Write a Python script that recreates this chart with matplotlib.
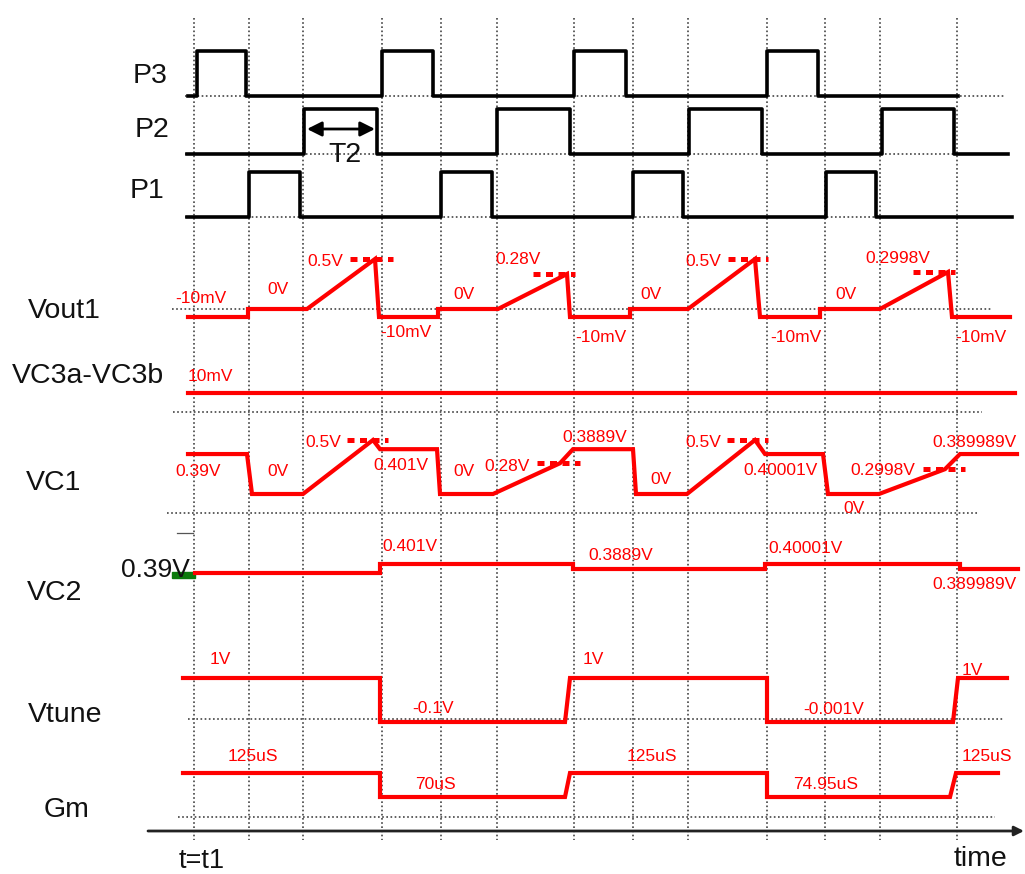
import matplotlib.pyplot as plt
from matplotlib.patches import Rectangle

plt.rcParams['font.family'] = ['Liberation Sans', 'DejaVu Sans']

RED = '#ff0000'
INK = '#111111'
GRID = '#444444'

# time axis: t = 0 is t1, one unit is one pixel of the drawing
GRID_T = [0, 55, 109, 188, 247, 303, 380, 439, 494, 573, 631, 686, 763]

# clock phases (edges of each digital waveform, starts low)
P3_EDGES = [-6, 3, 52, 188, 239, 380, 432, 573, 624, 764]
P2_EDGES = [-7, 110, 183, 303, 376, 495, 568, 688, 760, 814]
P1_EDGES = [-7, 55, 106, 247, 298, 439, 489, 632, 682, 818]

# Vout1 (drawn level: 0V = 0, 0.5V peak = 1)
VOUT1_T = [-6, 54, 54, 113, 181, 185, 244, 244, 304, 373, 376, 436, 436, 494,
           561, 566, 626, 626, 686, 754, 758, 816]
VOUT1_LV = [-0.16, -0.16, 0, 0, 1, -0.16, -0.16, 0, 0, 0.7, -0.16, -0.16, 0, 0,
            1, -0.16, -0.16, 0, 0, 0.74, -0.16, -0.16]
VOUT1_PEAKS = [(156, 199, 1), (339, 381, 0.7), (534, 574, 1), (719, 761, 0.74)]

# VC3a-VC3b stays at 10mV
VC3_T = [-6, 821]
VC3_LV = [0, 0]

# VC1
VC1_T = [-6, 53, 58, 109, 179, 186, 243, 246, 299, 366, 379, 439, 442, 493,
         561, 571, 629, 634, 685, 751, 766, 823]
VC1_LV = [0.74, 0.74, 0, 0, 1, 0.83, 0.83, 0, 0, 0.57, 0.83, 0.83, 0, 0,
          1, 0.74, 0.74, 0, 0, 0.46, 0.74, 0.74]
VC1_PEAKS = [(153, 194, 1), (343, 386, 0.57), (533, 574, 1), (729, 771, 0.46)]

# VC2 (held value per cycle)
VC2_T = [1, 186, 186, 379, 379, 571, 571, 766, 766, 824]
VC2_LV = [0, 0, 1, 1, 0.5, 0.5, 1, 1, 0.5, 0.5]

# Vtune (1V / low)
VTUNE_T = [-11, 186, 186, 371, 376, 573, 573, 759, 764, 813]
VTUNE_LV = [1, 1, 0, 0, 1, 1, 0, 0, 1, 1]

# Gm (125uS / low)
GM_T = [-11, 186, 186, 371, 376, 573, 573, 756, 762, 804]
GM_LV = [1, 1, 0, 0, 1, 1, 0, 0, 1, 1]

ROW_NAMES = ['P3', 'P2', 'P1', 'Vout1', 'VC3a-VC3b', 'VC1', 'VC2', 'Vtune', 'Gm']

# value labels: (text, t, y)
VOUT1_LABELS = [('-10mV', -19, 297), ('0V', 73, 288), ('0.5V', 113, 260),
                ('-10mV', 186, 331), ('0V', 259, 293), ('0.28V', 301, 258),
                ('-10mV', 381, 336), ('0V', 446, 293), ('0.5V', 491, 260),
                ('-10mV', 576, 336), ('0V', 641, 293), ('0.2998V', 671, 257),
                ('-10mV', 761, 336)]
VC3_LABELS = [('10mV', -6, 375)]
VC1_LABELS = [('0.39V', -19, 470), ('0V', 73, 470), ('0.5V', 111, 441),
              ('0.401V', 179, 464), ('0V', 259, 470), ('0.28V', 290, 465),
              ('0.3889V', 368, 436), ('0V', 456, 478), ('0.5V', 491, 441),
              ('0.40001V', 549, 469), ('0.2998V', 656, 469), ('0V', 649, 507),
              ('0.389989V', 738, 441)]
VC2_LABELS = [('0.401V', 188, 545), ('0.3889V', 394, 554),
              ('0.40001V', 574, 547), ('0.389989V', 738, 583)]
VTUNE_LABELS = [('1V', 16, 658), ('-0.1V', 218, 707), ('1V', 389, 658),
                ('-0.001V', 609, 708), ('1V', 768, 669)]
GM_LABELS = [('125uS', 34, 755), ('70uS', 221, 783), ('125uS', 433, 755),
             ('74.95uS', 599, 783), ('125uS', 768, 755)]

fig = plt.figure(figsize=(10.25, 8.74), dpi=100)
ax = fig.add_axes([0, 0, 1, 1])
ax.set_xlim(-194, 831)
ax.set_ylim(874, 0)
ax.axis('off')

# dotted grid
for t in GRID_T:
    ax.plot([t, t], [18, 840], ls=(0, (1, 1.5)), color=GRID, lw=1.2, zorder=1)
for y, t0, t1 in [(96, -9, 811), (154, -9, 811), (217, -9, 811), (309, -22, 798),
                  (412, -21, 788), (513, -27, 783), (719, -6, 809), (817, -16, 801)]:
    ax.plot([t0, t1], [y, y], ls=(0, (1, 1.5)), color=GRID, lw=1.2, zorder=1)


def digital(edges, base, amp=45):
    ts, ys = [edges[0]], [base]
    level = 0
    for e in edges[1:-1]:
        ts += [e, e]
        ys += [base - level * amp, base - (1 - level) * amp]
        level = 1 - level
    ts.append(edges[-1])
    ys.append(base - level * amp)
    ax.plot(ts, ys, color='black', lw=2.6, zorder=3)


digital(P3_EDGES, 96)
digital(P2_EDGES, 154)
digital(P1_EDGES, 217)

# T2 marker
ax.annotate('', xy=(181, 129), xytext=(113, 129),
            arrowprops=dict(arrowstyle='<|-|>', color='black', lw=2,
                            mutation_scale=22, shrinkA=0, shrinkB=0))
ax.text(151, 162, 'T2', fontsize=20.5, color=INK, ha='center', va='baseline')


def analog(ts, lv, base, amp):
    ax.plot(ts, [base - v * amp for v in lv], color=RED, lw=3,
            solid_joinstyle='miter', zorder=3)


def peaks(marks, base, amp):
    for t0, t1, v in marks:
        y = base - v * amp
        ax.plot([t0, t1], [y, y], color=RED, lw=3.6, ls=(0, (1.4, 1.1)), zorder=3)


analog(VOUT1_T, VOUT1_LV, 309, 50)
peaks(VOUT1_PEAKS, 309, 50)
analog(VC3_T, VC3_LV, 393, 1)
analog(VC1_T, VC1_LV, 494, 54)
peaks(VC1_PEAKS, 494, 54)
analog(VC2_T, VC2_LV, 573, 9)
analog(VTUNE_T, VTUNE_LV, 722, 44)
analog(GM_T, GM_LV, 797, 24)

for group in [VOUT1_LABELS, VC3_LABELS, VC1_LABELS, VC2_LABELS, VTUNE_LABELS, GM_LABELS]:
    for txt, t, y in group:
        ax.text(t, y + 6, txt, color=RED, fontsize=12.5, ha='left', va='baseline', zorder=4)

# row names on the left
name_pos = [(150, 83), (152, 137), (147, 198), (64, 318), (88, 383),
            (54, 490), (55, 600), (65, 722), (67, 817)]
for name, (x, y) in zip(ROW_NAMES, name_pos):
    ax.text(x - 194, y, name, fontsize=20.5, color=INK, ha='center', va='baseline')

# VC2 start value marker
ax.add_patch(Rectangle((-22, 572), 23, 6, color='#0b7a0b', zorder=2))
ax.plot([-17, -1], [533, 533], color='#555555', lw=0.9)
ax.text(-4, 577, '0.39V', fontsize=19, color=INK, ha='right', va='baseline', zorder=4)

# time axis
ax.annotate('', xy=(830, 831), xytext=(-46, 831),
            arrowprops=dict(arrowstyle='-|>', color='#222222', lw=2,
                            mutation_scale=14, shrinkA=0, shrinkB=0))
ax.text(8, 868, 't=t1', fontsize=19.5, color=INK, ha='center', va='baseline')
ax.text(786, 866, 'time', fontsize=20.5, color=INK, ha='center', va='baseline')

fig.savefig('out.png', dpi=100)
